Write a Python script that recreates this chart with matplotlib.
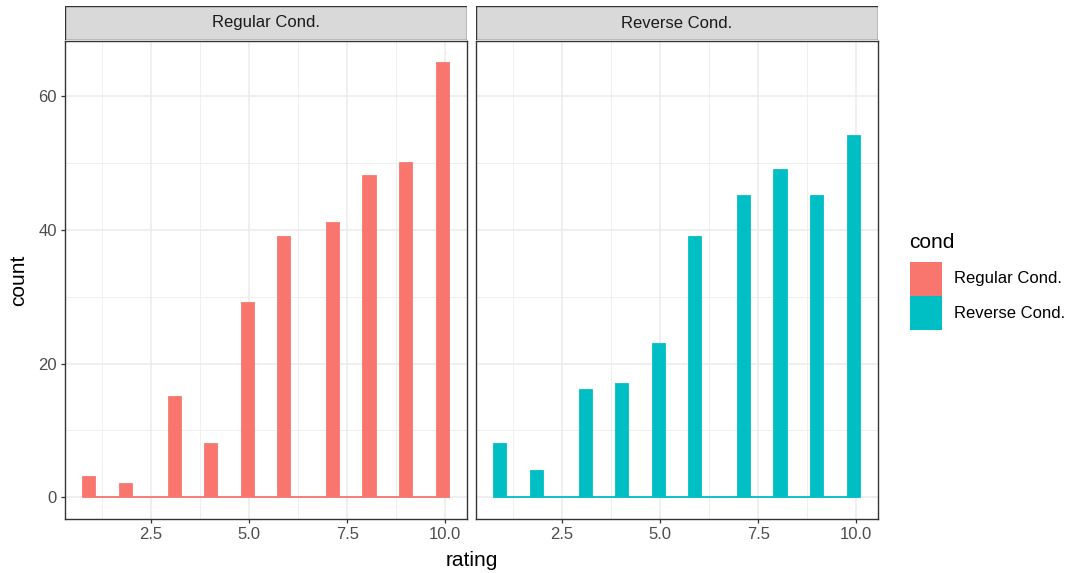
import numpy as np
import matplotlib.pyplot as plt
from matplotlib.patches import Rectangle

plt.rcParams['font.family'] = ['Liberation Sans', 'DejaVu Sans']

ratings = [1, 2, 3, 4, 5, 6, 7, 8, 9, 10]
regular_counts = [3, 2, 15, 8, 29, 39, 41, 48, 50, 65]
reverse_counts = [8, 4, 16, 17, 23, 39, 45, 49, 45, 54]
conds = ['Regular Cond.', 'Reverse Cond.']
colors = ['#F8766D', '#00BFC4']

# ggplot (old) bins=30 breaks: width = range/29, boundary = width/2
nbins = 30
lo, hi = min(ratings), max(ratings)
width = (hi - lo) / (nbins - 1)
boundary = width / 2
origin = boundary + np.floor((lo - boundary) / width) * width
edges = origin + width * np.arange(nbins + 1)

fig = plt.figure(figsize=(10.73, 5.73), dpi=100)
W, H = 1073, 573
panels = [(65, 467), (476, 878)]
top_px, bot_px = 41, 519
xlo, xhi = edges[0], edges[-1]
xpad = (xhi - xlo) * 0.05
ymax = max(max(regular_counts), max(reverse_counts))

for i, (counts, cond, col) in enumerate(zip([regular_counts, reverse_counts], conds, colors)):
    l, r = panels[i]
    ax = fig.add_axes([l / W, 1 - bot_px / H, (r - l) / W, (bot_px - top_px) / H])
    data = np.repeat(ratings, counts)
    ax.hist(data, bins=edges, facecolor=col, edgecolor=col, lw=1.3, zorder=3)
    ax.set_xlim(xlo - xpad, xhi + xpad)
    ax.set_ylim(-ymax * 0.05, ymax * 1.05)
    ax.set_xticks([2.5, 5.0, 7.5, 10.0])
    ax.set_xticklabels(['2.5', '5.0', '7.5', '10.0'])
    ax.set_xticks([1.25, 3.75, 6.25, 8.75], minor=True)
    ax.set_yticks([0, 20, 40, 60])
    ax.set_yticks([10, 30, 50], minor=True)
    ax.grid(which='major', color='#EBEBEB', lw=1.1, zorder=0)
    ax.grid(which='minor', color='#EBEBEB', lw=0.55, zorder=0)
    ax.tick_params(which='major', length=3, width=0.9, color='#333333',
                   labelsize=12, labelcolor='#4D4D4D', pad=3)
    ax.tick_params(which='minor', length=0)
    for s in ax.spines.values():
        s.set_color('#333333')
        s.set_linewidth(1.0)
    if i > 0:
        ax.tick_params(axis='y', labelleft=False, length=0)
    # facet strip
    sax = fig.add_axes([l / W, 1 - 40 / H, (r - l) / W, 34 / H])
    sax.add_patch(Rectangle((0, 0), 1, 1, facecolor='#D9D9D9', edgecolor='#333333',
                            lw=1.0, transform=sax.transAxes))
    sax.set_xticks([])
    sax.set_yticks([])
    for s in sax.spines.values():
        s.set_visible(False)
    sax.text(0.5, 0.5, cond, ha='center', va='center', fontsize=12, color='#1A1A1A')

fig.text((panels[0][0] + panels[1][1]) / 2 / W, 1 - 560 / H, 'rating',
         ha='center', va='center', fontsize=15)
fig.text(19 / W, 1 - 280 / H, 'count', ha='center', va='center', rotation=90, fontsize=15)

# legend
fig.text(909 / W, 1 - 242 / H, 'cond', ha='left', va='center', fontsize=15)
for j, (cond, col) in enumerate(zip(conds, colors)):
    y0 = 262 + j * 34
    fig.patches.append(Rectangle((910 / W, 1 - (y0 + 34) / H), 32 / W, 34 / H,
                                 facecolor=col, edgecolor='none', transform=fig.transFigure))
    fig.text(954 / W, 1 - (y0 + 17) / H, cond, ha='left', va='center', fontsize=12)

fig.savefig('out.png', dpi=100, facecolor='white')
